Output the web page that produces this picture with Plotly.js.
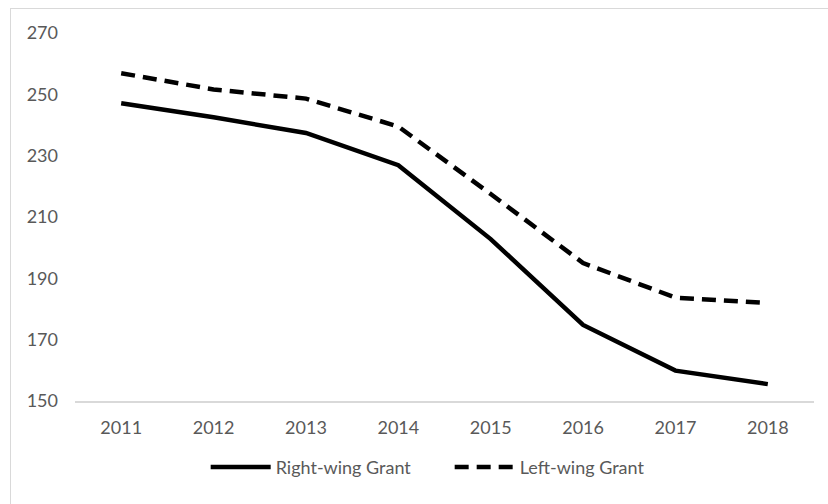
<!DOCTYPE html>
<html>
<head>
<meta charset="utf-8">
<script src="https://cdn.plot.ly/plotly-3.0.1.min.js"></script>
<style>
html,body{margin:0;padding:0;background:#fff;}
#wrap{position:relative;width:828px;height:504px;overflow:hidden;}
#chart{position:absolute;left:0;top:0;width:828px;height:504px;}
#frame{position:absolute;left:10px;top:8px;width:840px;height:520px;border-top:1.5px solid #d9d9d9;border-left:1.5px solid #d9d9d9;pointer-events:none;}
</style>
</head>
<body>
<div id="wrap"><div id="chart"></div><div id="frame"></div></div>
<script>
const years = ['2011','2012','2013','2014','2015','2016','2017','2018'];
const rightWing = [247.1, 242.5, 237.4, 226.9, 202.8, 174.8, 159.9, 155.5];
const leftWing = [256.9, 251.6, 248.6, 239.5, 217.5, 195.0, 183.7, 182.0];
const seriesNames = ['Right-wing Grant', 'Left-wing Grant'];
const yTicks = [150, 170, 190, 210, 230, 250, 270];

const traces = [
  {x: years, y: rightWing, name: seriesNames[0], type: 'scatter', mode: 'lines',
   line: {color: '#000000', width: 4.5}},
  {x: years, y: leftWing, name: seriesNames[1], type: 'scatter', mode: 'lines',
   line: {color: '#000000', width: 4.5, dash: '14px,8px'}}
];

const layout = {
  width: 828, height: 504,
  margin: {l: 75, r: 14, t: 33, b: 103},
  paper_bgcolor: '#ffffff', plot_bgcolor: '#ffffff',
  font: {family: 'Lato, "Open Sans", sans-serif', size: 18, color: '#595959'},
  showlegend: true,
  legend: {orientation: 'h', x: 0.507, xanchor: 'center', y: -0.18, yanchor: 'middle',
           font: {size: 18, color: '#595959'}, itemwidth: 60, entrywidth: 169},
  xaxis: {type: 'category', range: [-0.5, 7.5], showgrid: false, zeroline: false, showline: true,
          linecolor: '#d9d9d9', linewidth: 1.5, ticks: '', ticklen: 0, ticklabelstandoff: 10,
          tickfont: {size: 18, color: '#595959'}},
  yaxis: {range: [150, 270], tickvals: yTicks, showgrid: false, zeroline: false,
          showline: false, ticks: '', ticklabelstandoff: 16, tickfont: {size: 18, color: '#595959'}}
};

Plotly.newPlot('chart', traces, layout, {displayModeBar: false, staticPlot: true});
</script>
</body>
</html>
